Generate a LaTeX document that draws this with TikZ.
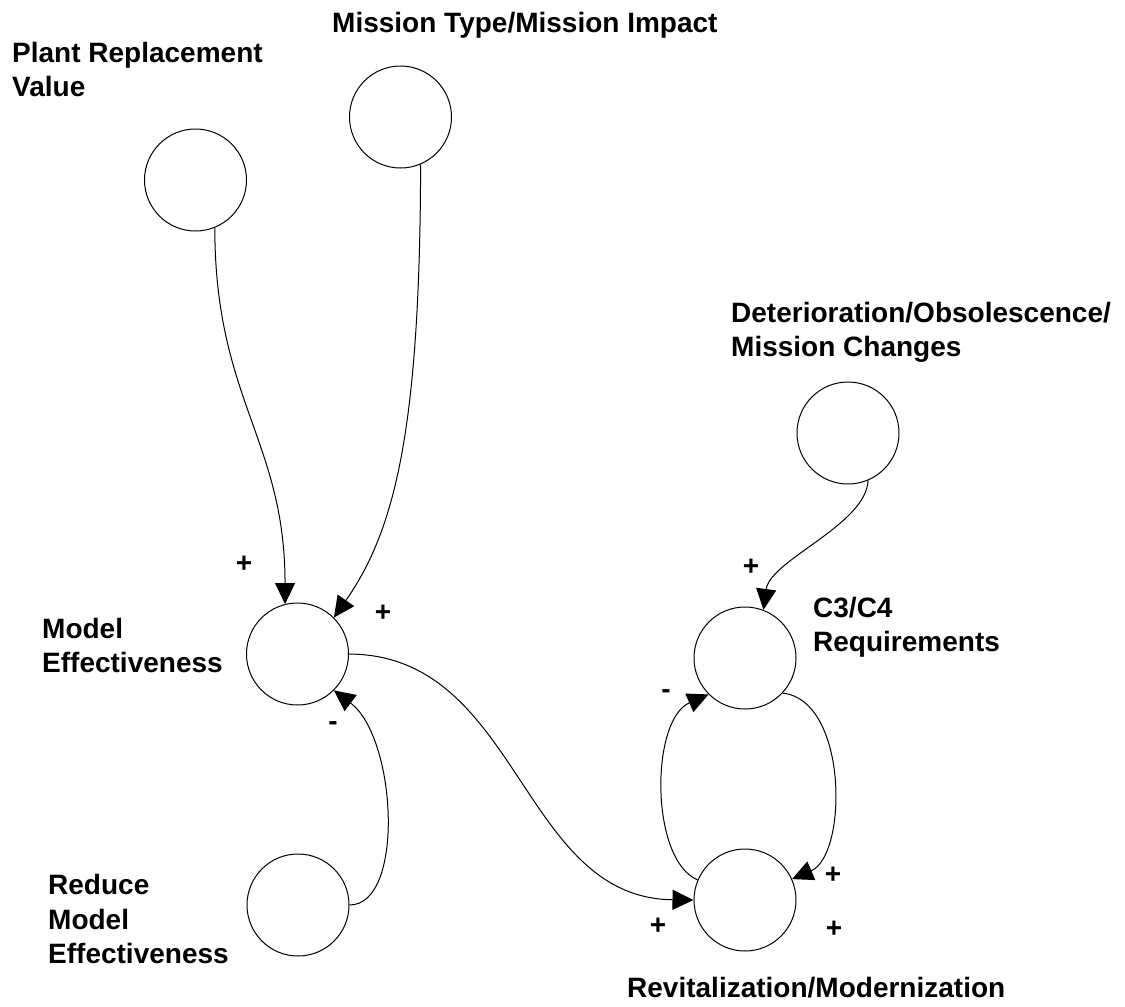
\documentclass[tikz,border=0pt]{standalone}
\usepackage{fontspec}
\setmainfont{Liberation Sans}
\usetikzlibrary{arrows.meta}
\begin{document}
\begin{tikzpicture}[x=1pt,y=-1pt,
  circ/.style={circle,draw,line width=1pt,minimum size=102pt,inner sep=0pt},
  lbl/.style={font=\fontsize{28}{34.5}\selectfont\bfseries,align=left,anchor=north west,inner sep=0pt},
  sgn/.style={font=\fontsize{28}{34.5}\selectfont\bfseries,anchor=base,inner sep=0pt},
  conn/.style={line width=1pt,-{Triangle[length=21pt,width=20pt]}}]
\useasboundingbox (0,0) rectangle (1125,1007);
\fill[white] (0,0) rectangle (1125,1007);

% circles
\node[circ] (PRV) at (195.5,180) {};
\node[circ] (MT)  at (400.5,117) {};
\node[circ] (DET) at (848,433) {};
\node[circ] (C3)  at (745,658) {};
\node[circ] (ME)  at (297.5,654) {};
\node[circ] (RME) at (298,905) {};
\node[circ] (REV) at (745,900) {};

% labels
\node[lbl] (tPRV) at (12,42) {Plant Replacement\\Value};
\node[lbl] (tMT)  at (332,12) {Mission Type/Mission Impact};
\node[lbl] (tDET) at (731,302) {Deterioration/Obsolescence/\\Mission Changes};
\node[lbl] (tME)  at (42,618) {Model\\Effectiveness};
\node[lbl] (tC3)  at (813,597) {C3/C4\\Requirements};
\node[lbl] (tRME) at (48,874) {Reduce\\Model\\Effectiveness};
\node[lbl] (tREV) at (627,977) {Revitalization/Modernization};

% connectors
\draw[conn] (PRV.-68) .. controls (215,400) and (285,440) .. (ME.104);
\draw[conn] (MT.-67) .. controls (420,430) and (395,530) .. (ME.45);
\draw[conn] (ME.0) .. controls (520,655) and (520,898) .. (REV.180);
\draw[conn] (RME.0) .. controls (405,905) and (397,738) .. (ME.-45);
\draw[conn] (DET.-67) .. controls (866,525) and (770,560) .. (C3.69);
\draw[conn] (C3.-43) .. controls (848,700) and (848,855) .. (REV.24);
\draw[conn] (REV.157) .. controls (650,860) and (650,720) .. (C3.225);

% signs
\node[sgn] (s1) at (244,572.5) {+};
\node[sgn] (s2) at (383,621) {+};
\node[sgn] (s3) at (333,730) {-};
\node[sgn] (s4) at (751,575.5) {+};
\node[sgn] (s5) at (666,698.5) {-};
\node[sgn] (s6) at (658,934) {+};
\node[sgn] (s7) at (833,883) {+};
\node[sgn] (s8) at (834,937) {+};
\end{tikzpicture}
\end{document}
